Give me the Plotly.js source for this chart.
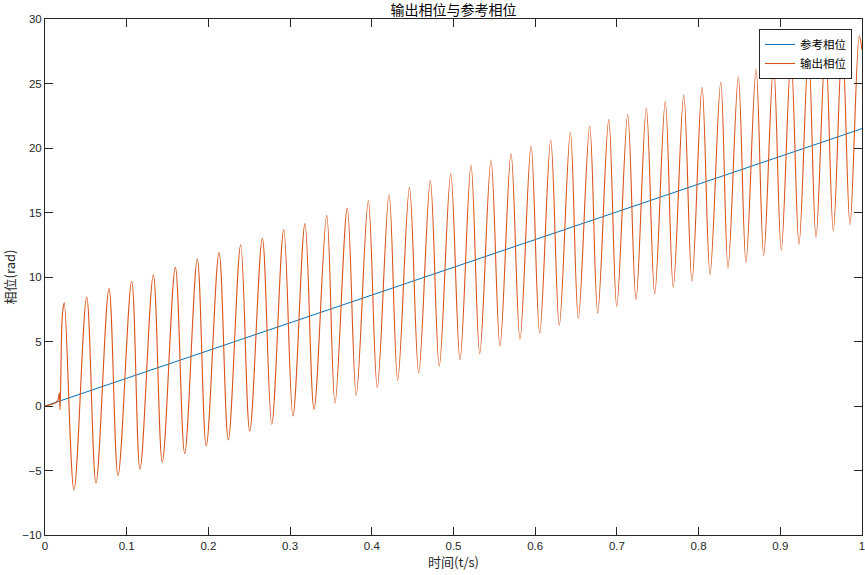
<!DOCTYPE html>
<html>
<head>
<meta charset="utf-8">
<script src="https://cdn.plot.ly/plotly-3.0.1.min.js"></script>
<style>
html, body { margin: 0; padding: 0; background: #fff; }
#chart { width: 865px; height: 575px; }
</style>
</head>
<body>
<div id="chart"></div>
<script>
// Reference phase (straight line)
const refT = [0, 1];
const refPhase = [0, 21.5];

// Output phase: start-up transient
const startT = [0, 0.013, 0.016, 0.0175, 0.018, 0.0185, 0.0205, 0.0218];
const startPhase = [0, 0.25, 0.5, 1.0, 0.35, -0.3, 6.0, 7.4];

// Output phase: local maxima
const peakT = [0.0236, 0.0510, 0.0783, 0.1061, 0.1326, 0.1595, 0.1864, 0.2130, 0.2395, 0.2660,
  0.2922, 0.3182, 0.3448, 0.3700, 0.3957, 0.4211, 0.4461, 0.4716, 0.4966, 0.5214,
  0.5459, 0.5704, 0.5949, 0.6190, 0.6430, 0.6667, 0.6900, 0.7132, 0.7360, 0.7592,
  0.7818, 0.8042, 0.8271, 0.8486, 0.8703, 0.8917, 0.9131, 0.9345, 0.9553, 0.9759, 0.9967];
const peakPhase = [8.0, 8.45, 9.1, 9.67, 10.16, 10.75, 11.4, 11.9, 12.5, 13.0,
  13.67, 14.14, 14.78, 15.35, 15.9, 16.4, 16.93, 17.47, 18.0, 18.66,
  19.07, 19.57, 20.15, 20.6, 21.2, 21.7, 22.2, 22.6, 23.1, 23.6,
  24.1, 24.7, 25.1, 25.5, 26.1, 26.5, 26.95, 27.4, 27.85, 28.3, 28.7];

// Output phase: local minima
const troughT = [0.0355, 0.0624, 0.0894, 0.1163, 0.1436, 0.1710, 0.1974, 0.2244, 0.2506, 0.2775,
  0.3035, 0.3293, 0.3550, 0.3810, 0.4067, 0.4317, 0.4574, 0.4826, 0.5080, 0.5321,
  0.5569, 0.5814, 0.6055, 0.6295, 0.6528, 0.6765, 0.6998, 0.7234, 0.7463, 0.7690,
  0.7919, 0.8140, 0.8360, 0.8580, 0.8797, 0.9012, 0.9229, 0.9437, 0.9649, 0.9853];
const troughPhase = [-6.53, -5.97, -5.4, -4.9, -4.36, -3.67, -3.1, -2.63, -1.94, -1.42,
  -0.78, -0.26, 0.23, 0.83, 1.43, 2.0, 2.56, 3.1, 3.6, 4.06,
  4.65, 5.17, 5.64, 6.26, 6.8, 7.2, 7.73, 8.25, 8.7, 9.22,
  9.67, 10.2, 10.73, 11.14, 11.68, 12.07, 12.53, 13.08, 13.57, 14.06];

// Output phase: final sample
const endT = [1.0];
const endPhase = [27.6];

const xTickVals = [0, 0.1, 0.2, 0.3, 0.4, 0.5, 0.6, 0.7, 0.8, 0.9, 1];
const xTickText = ['0', '0.1', '0.2', '0.3', '0.4', '0.5', '0.6', '0.7', '0.8', '0.9', '1'];
const yTickVals = [-10, -5, 0, 5, 10, 15, 20, 25, 30];

const titleText = '输出相位与参考相位';
const xTitle = '时间(t/s)';
const yTitle = '相位(rad)';
const refName = '参考相位';
const outName = '输出相位';

// merge output phase samples in time order
const pts = [];
startT.forEach((t, i) => pts.push([t, startPhase[i]]));
peakT.forEach((t, i) => pts.push([t, peakPhase[i]]));
troughT.forEach((t, i) => pts.push([t, troughPhase[i]]));
endT.forEach((t, i) => pts.push([t, endPhase[i]]));
pts.sort((a, b) => a[0] - b[0]);
const outT = pts.map(p => p[0]);
const outPhase = pts.map(p => p[1]);

const fontFam = '"Liberation Sans", Arial, "Noto Sans CJK SC", sans-serif';
const cjkFam = '"Noto Sans CJK SC", "Liberation Sans", sans-serif';
const axisColor = '#262626';

const traces = [
  { x: refT, y: refPhase, type: 'scatter', mode: 'lines', name: refName,
    line: { color: '#0072BD', width: 1 } },
  { x: outT, y: outPhase, type: 'scatter', mode: 'lines', name: outName,
    line: { color: '#D95319', width: 1.1, shape: 'spline', smoothing: 1 } }
];

const axisCommon = {
  showgrid: false, zeroline: false, showline: true, linecolor: axisColor, linewidth: 1,
  mirror: 'ticks', ticks: 'inside', ticklen: 8, tickwidth: 1, tickcolor: axisColor,
  ticklabeloverflow: 'allow',
  tickfont: { family: fontFam, size: 11.5, color: axisColor }
};

const layout = {
  width: 865, height: 575,
  margin: { l: 45, r: 3, t: 19, b: 40 },
  paper_bgcolor: '#fff', plot_bgcolor: '#fff',
  title: { text: titleText, font: { family: cjkFam, size: 14, color: '#000' },
           x: 0.5, xref: 'paper', y: 1 - 10.5 / 575, yref: 'container', yanchor: 'middle' },
  xaxis: Object.assign({}, axisCommon, {
    range: [0, 1], tickvals: xTickVals, ticktext: xTickText,
    title: { text: xTitle, font: { family: cjkFam, size: 13, color: axisColor }, standoff: 2 }
  }),
  yaxis: Object.assign({}, axisCommon, {
    range: [-10, 30], tickvals: yTickVals,
    title: { text: yTitle, font: { family: cjkFam, size: 13, color: axisColor }, standoff: 4 }
  }),
  showlegend: true,
  legend: {
    x: (852 - 45) / 817, xanchor: 'right', y: (535 - 29) / 516, yanchor: 'top',
    bgcolor: '#fff', bordercolor: axisColor, borderwidth: 1,
    font: { family: cjkFam, size: 11.5, color: '#000' },
    tracegroupgap: 0, itemwidth: 30
  }
};

Plotly.newPlot('chart', traces, layout, { displayModeBar: false, staticPlot: true });
</script>
</body>
</html>
